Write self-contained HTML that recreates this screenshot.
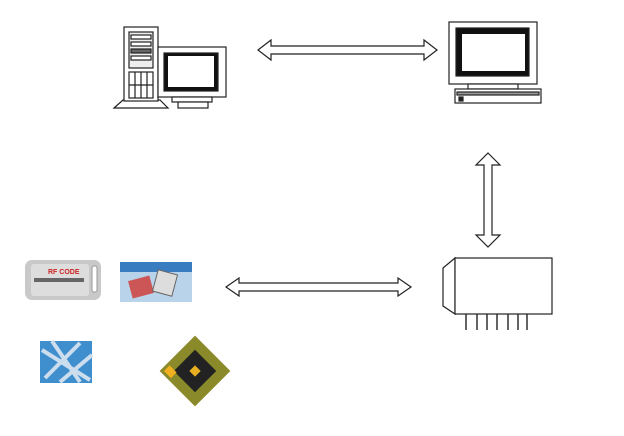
<!DOCTYPE html>
<html><head><meta charset="utf-8"><style>html,body{margin:0;padding:0;background:#fff}svg{display:block}</style></head><body>
<svg width="624" height="436" viewBox="0 0 624 436" xmlns="http://www.w3.org/2000/svg">
<rect width="624" height="436" fill="#fff"/>
<g stroke="#222" fill="#fff" stroke-width="1.2">
<!-- tower -->
<polygon points="114,108 123,100 160,100 168,108"/>
<rect x="124" y="27" width="34" height="74"/>
<rect x="129" y="32" width="24" height="36" fill="#eee"/>
<rect x="131" y="35" width="20" height="4"/><rect x="131" y="42" width="20" height="4"/>
<rect x="131" y="49" width="20" height="4" fill="#666"/><rect x="131" y="56" width="20" height="4"/>
<rect x="129" y="72" width="24" height="26"/>
<line x1="135" y1="72" x2="135" y2="98"/><line x1="141" y1="72" x2="141" y2="98"/><line x1="147" y1="72" x2="147" y2="98"/>
<line x1="129" y1="85" x2="153" y2="85"/>
<!-- small monitor -->
<rect x="158" y="47" width="68" height="50"/>
<rect x="164" y="53" width="54" height="38" fill="#111"/>
<rect x="168" y="56" width="46" height="31" fill="#fff" stroke="none"/>
<rect x="172" y="97" width="40" height="5"/><rect x="178" y="102" width="30" height="6"/>
<!-- right monitor -->
<rect x="449" y="22" width="88" height="62"/>
<rect x="456" y="28" width="73" height="48" fill="#111"/>
<rect x="462" y="34" width="63" height="37" fill="#fff" stroke="none"/>
<rect x="468" y="84" width="50" height="5"/>
<rect x="455" y="89" width="86" height="14"/>
<rect x="457" y="92" width="82" height="3" fill="#999"/>
<rect x="459" y="97" width="4" height="4" fill="#222"/>
<!-- reader -->
<polygon points="455,258 443,268 443,306 455,314"/>
<rect x="455" y="258" width="97" height="56"/>
<g stroke-width="1.4"><line x1="466" y1="314" x2="466" y2="330"/><line x1="477" y1="314" x2="477" y2="330"/><line x1="487" y1="314" x2="487" y2="330"/><line x1="497" y1="314" x2="497" y2="330"/><line x1="508" y1="314" x2="508" y2="330"/><line x1="518" y1="314" x2="518" y2="330"/><line x1="527" y1="314" x2="527" y2="330"/></g>
<!-- arrows -->
<polygon points="258,50 271,40 271,46 424,46 424,40 437,50 424,60 424,54 271,54 271,60"/>
<polygon points="226,287 239,278 239,283 398,283 398,278 411,287 398,296 398,291 239,291 239,296"/>
<polygon points="488,153 500,165 492,165 492,235 500,235 488,247 476,235 484,235 484,165 476,165"/>
</g>
<!-- tag -->
<rect x="25" y="260" width="76" height="40" rx="7" fill="#c9c9c9"/>
<rect x="31" y="264" width="58" height="32" rx="3" fill="#ddd"/>
<text x="48" y="274" font-family="Liberation Sans,sans-serif" font-size="7" font-weight="bold" fill="#c22">RF CODE</text>
<rect x="34" y="278" width="50" height="4" fill="#666"/>
<rect x="92" y="266" width="5" height="26" rx="2" fill="#fff" stroke="#999"/>
<!-- card -->
<rect x="120" y="262" width="72" height="40" fill="#b9d4ea"/>
<rect x="120" y="262" width="72" height="10" fill="#3a7cc0"/>
<rect x="130" y="278" width="22" height="18" fill="#c55" transform="rotate(-15 141 287)"/>
<rect x="155" y="272" width="20" height="22" fill="#ddd" stroke="#666" transform="rotate(15 165 283)"/>
<!-- blue square -->
<rect x="40" y="341" width="52" height="42" fill="#3f8fcf"/>
<g stroke="#cde" stroke-width="4"><line x1="42" y1="350" x2="90" y2="380"/><line x1="45" y1="378" x2="80" y2="343"/><line x1="60" y1="382" x2="92" y2="355"/><line x1="52" y1="341" x2="80" y2="382"/></g>
<!-- chip -->
<g transform="translate(195,371) rotate(45)">
<rect x="-25" y="-25" width="50" height="50" fill="#8a8a2a"/>
<rect x="-15" y="-15" width="30" height="30" fill="#222"/>
<rect x="-4" y="-4" width="8" height="8" fill="#e8b020"/>
<rect x="-22" y="14" width="10" height="8" fill="#f0b020"/>
</g>
</svg>
</body></html>
